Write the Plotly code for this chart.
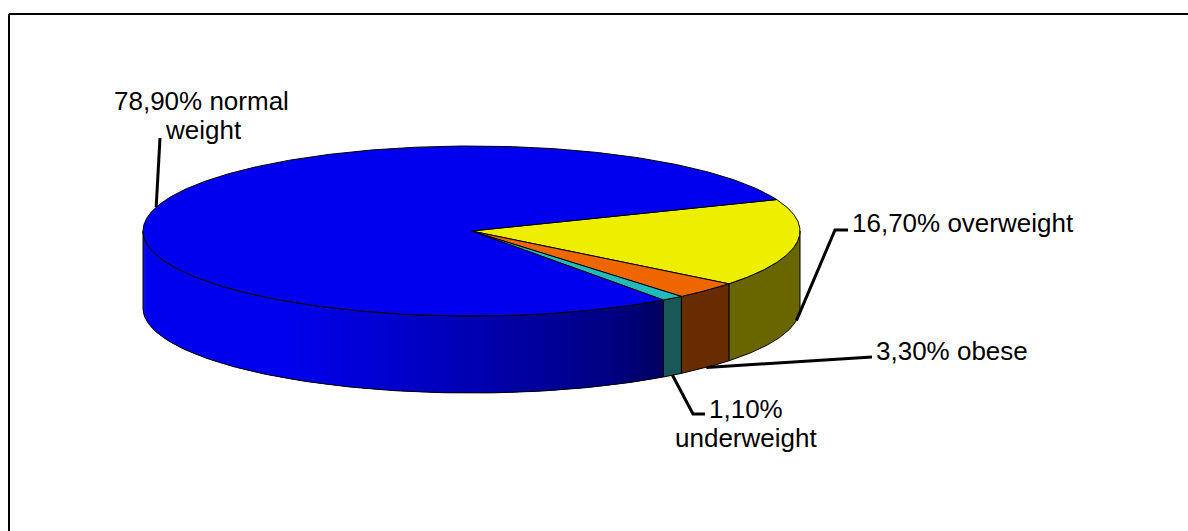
import numpy as np
import plotly.graph_objects as go

# Body-mass categories, in clockwise order from the start angle
categories = ["overweight", "obese", "underweight", "normal weight"]
shares = [16.7, 3.3, 1.1, 78.9]
top_colors = ["#EEEE00", "#EE6600", "#22BBBB", "#0000EE"]
side_colors = ["#696600", "#682C00", "#1A5858", None]

# Pie projection, in page pixels
CX, CY, RX, RY, DEPTH = 471.5, 231.0, 328.5, 85.0, 77.0
START_DEG = 21.7
WIDTH, HEIGHT = 1188, 531
EDGE = "#000000"
FONT = dict(family="Liberation Sans, Arial, sans-serif", size=26, color="#000000")


def rim(a_deg, b_deg, n=120, drop=0.0):
    t = np.radians(np.linspace(a_deg, b_deg, n))
    return CX + RX * np.cos(t), CY - RY * np.sin(t) + drop


def blue_shade(x):
    # The blue wall darkens from the left silhouette towards the front right
    level = np.interp(x, [143, 285, 400, 480, 560, 620, 665], [238, 238, 204, 176, 150, 126, 98])
    return f"rgb(0,0,{int(level)})"


def add_fill(fig, xs, ys, fill, line_width=0.0):
    fig.add_trace(go.Scatter(
        x=xs, y=ys, mode="lines", fill="toself", fillcolor=fill,
        line=dict(color=EDGE, width=line_width), hoverinfo="skip", showlegend=False,
    ))


fig = go.Figure()

# Slice limits follow from the shares
sweeps = np.array(shares) * 3.6
ends = START_DEG - np.cumsum(sweeps)
starts = ends + sweeps
mids = (starts + ends) / 2

# Wall of the disc: only the front half (angles from 0 to -180) is visible
for i, cat in enumerate(categories):
    a, b = starts[i], ends[i]
    b_vis = max(b, -180.0)
    a_vis = min(a, 0.0)
    if side_colors[i] is not None:
        x1, y1 = rim(a_vis, b_vis)
        x2, y2 = rim(b_vis, a_vis, drop=DEPTH)
        add_fill(fig, np.r_[x1, x2, x1[0]], np.r_[y1, y2, y1[0]], side_colors[i], 1.0)
    else:
        # Narrow strips painted from the left so each one overlaps the previous
        edges = np.linspace(-180.0, a_vis, 241)
        for j in range(len(edges) - 1):
            e0, e1 = edges[j], min(edges[j + 1] + 0.6, a_vis)
            x1, y1 = rim(e0, e1, n=8)
            x2, y2 = rim(e1, e0, n=8, drop=DEPTH)
            add_fill(fig, np.r_[x1, x2], np.r_[y1, y2], blue_shade(x1.mean()))
        # Outline of the blue wall
        x1, y1 = rim(-180.0, a_vis)
        x2, y2 = rim(a_vis, -180.0, drop=DEPTH)
        fig.add_trace(go.Scatter(
            x=np.r_[x1, x2, x1[0]], y=np.r_[y1, y2, y1[0]], mode="lines",
            line=dict(color=EDGE, width=1.0), hoverinfo="skip", showlegend=False,
        ))

# Top face of the disc
for i, cat in enumerate(categories):
    xr, yr = rim(starts[i], ends[i], n=max(int(sweeps[i] * 2), 16))
    add_fill(fig, np.r_[CX, xr, CX], np.r_[CY, yr, CY], top_colors[i], 1.0)

# Labels, each line placed on its own so the leading stays tight
LABEL_LINES = [
    ("78,90% normal", 201.5, 101.0),
    ("weight", 203.0, 130.0),
    ("16,70% overweight", 962.5, 223.0),
    ("3,30% obese", 952.0, 350.5),
    ("1,10%", 746.0, 409.0),
    ("underweight", 746.0, 437.5),
]
for text, x, y in LABEL_LINES:
    fig.add_annotation(x=x, y=y, text=text, showarrow=False, font=FONT,
                       xanchor="center", yanchor="middle")

# Leader lines run from each slice's mid-angle to its label
LEADER_ENDS = {
    "overweight": [(835, 230), (848, 230)],
    "obese": [(872, 357)],
    "underweight": [(693, 414), (705, 414)],
    "normal weight": [(160, 138)],
}
for i, cat in enumerate(categories):
    t = np.radians(mids[i])
    x0 = CX + RX * np.cos(t)
    y0 = CY - RY * np.sin(t) + (DEPTH if np.sin(t) < 0 else 0.0)
    pts = [(x0, y0)] + LEADER_ENDS[cat]
    fig.add_trace(go.Scatter(
        x=[p[0] for p in pts], y=[p[1] for p in pts], mode="lines",
        line=dict(color="#000000", width=3), hoverinfo="skip", showlegend=False,
    ))

# Chart frame: its right and bottom sides run past the page
fig.add_shape(type="line", x0=9, x1=WIDTH, y0=14, y1=14, line=dict(color="#000000", width=2))
fig.add_shape(type="line", x0=9, x1=9, y0=14, y1=HEIGHT, line=dict(color="#000000", width=2))

fig.update_layout(
    width=WIDTH, height=HEIGHT, margin=dict(l=0, r=0, t=0, b=0),
    paper_bgcolor="#FFFFFF", plot_bgcolor="#FFFFFF", showlegend=False,
    xaxis=dict(range=[0, WIDTH], visible=False, fixedrange=True),
    yaxis=dict(range=[HEIGHT, 0], visible=False, fixedrange=True),
)
fig.write_html("out.html", config=dict(displayModeBar=False))
